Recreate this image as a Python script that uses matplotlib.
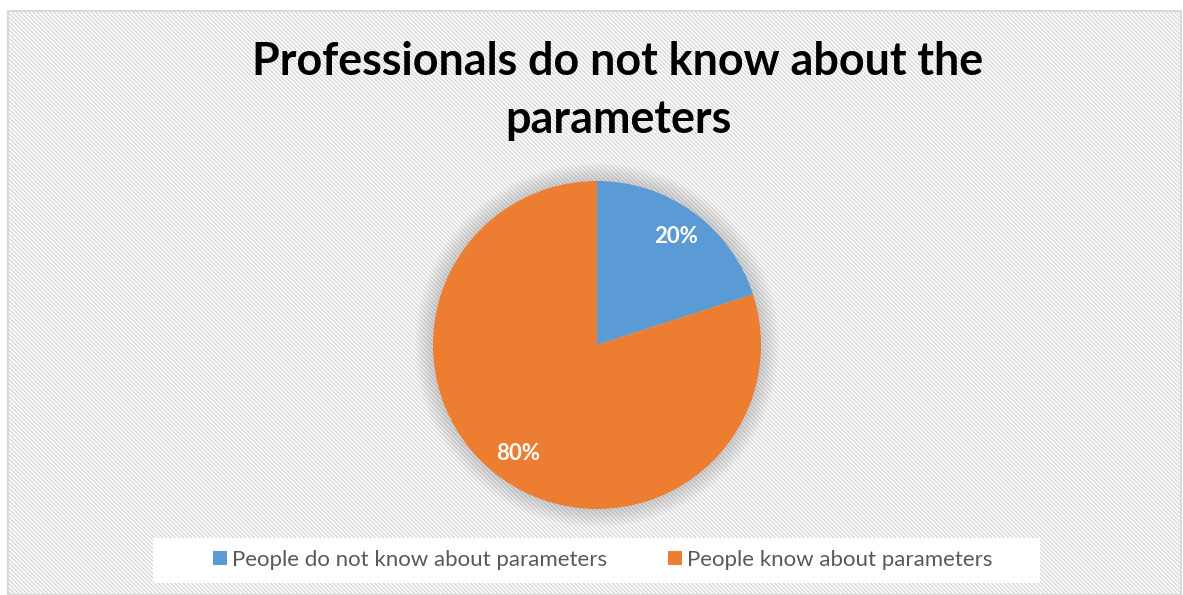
import matplotlib
matplotlib.use("Agg")
import matplotlib.pyplot as plt
from matplotlib.patches import Rectangle, Circle

labels = ["People do not know about parameters", "People know about parameters"]
values = [20, 80]
colors = ["#5B9BD5", "#ED7D31"]
title = "Professionals do not know about the\nparameters"

plt.rcParams['font.family'] = ['Lato', 'DejaVu Sans']
plt.rcParams['hatch.color'] = '#efefef'
plt.rcParams['hatch.linewidth'] = 1.0

W, H = 1183, 595
fig = plt.figure(figsize=(W / 100, H / 100), dpi=100)
fig.patch.set_facecolor('white')

# chart area border with diagonal hatch
bg = Rectangle((8 / W, 0), (W - 10) / W, (H - 11) / H, transform=fig.transFigure,
               facecolor='white', edgecolor='#d9d9d9', linewidth=1.5, hatch='\\' * 8,
               zorder=0)
fig.add_artist(bg)

# pie axes: center (597,345) radius 164
cx, cy, r = 597, 345, 164
ax = fig.add_axes([(cx - r) / W, (H - cy - r) / H, 2 * r / W, 2 * r / H])
ax.axis('off')
ax.patch.set_alpha(0)

# soft shadow
for i in range(10):
    ax.add_patch(Circle((0, 0), 1.0 + 0.011 * (i + 1), facecolor='#808080',
                        alpha=0.035, edgecolor='none', zorder=0, clip_on=False))

wedges, texts, autotexts = ax.pie(values, colors=colors, startangle=90, counterclock=False,
                                  autopct='%1.0f%%', pctdistance=0.82, radius=1.0,
                                  wedgeprops=dict(linewidth=0, edgecolor='none'),
                                  textprops=dict(color='white', fontsize=16, fontweight='bold'))
ax.set_xlim(-1, 1)
ax.set_ylim(-1, 1)

fig.text(618 / W, 1 - 91 / H, title, ha='center', va='center', fontsize=32.3,
         fontweight='bold', color='black', linespacing=1.45)

# legend background
fig.add_artist(Rectangle((153 / W, 1 - 583 / H), (1040 - 153) / W, 45 / H,
                         transform=fig.transFigure, facecolor='white', edgecolor='none',
                         zorder=1))
handles = [Rectangle((0, 0), 1, 1, facecolor=c) for c in colors]
fig.legend(handles, labels, loc='center', bbox_to_anchor=(603 / W, 1 - 560 / H), ncol=2,
           frameon=False, fontsize=16, labelcolor='#595959', handlelength=0.6,
           handleheight=0.6, handletextpad=0.25, columnspacing=2.75)

fig.savefig('out.png', dpi=100)
